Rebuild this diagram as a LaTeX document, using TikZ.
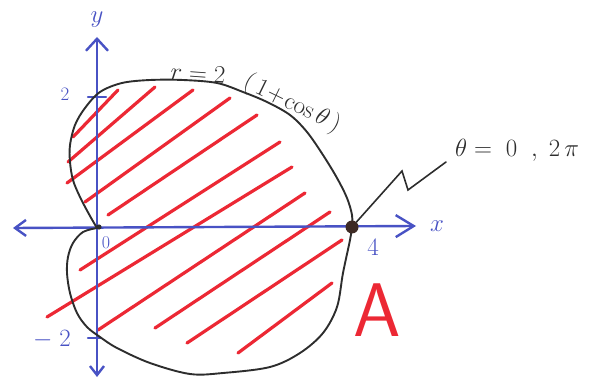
\documentclass[tikz,border=0pt]{standalone}
\usetikzlibrary{arrows.meta}
\definecolor{hatch}{RGB}{236,40,52}
\definecolor{axisblue}{RGB}{72,82,196}
\definecolor{curvec}{RGB}{45,45,45}
\definecolor{dotc}{RGB}{62,42,36}
\begin{document}
\begin{tikzpicture}[x=1pt,y=-1pt,
  hatchline/.style={hatch, line width=3.2pt, line cap=round},
  axisline/.style={axisblue, line width=2.4pt, line cap=round},
  curveline/.style={curvec, line width=1.9pt, line join=round, line cap=round},
  axislabel/.style={text=axisblue, inner sep=0pt},
  blacklabel/.style={text=curvec, inner sep=0pt}]
\useasboundingbox (0,0) rectangle (613,379);
% hatching
\draw[hatchline] (73,137) -- (118,90);
\draw[hatchline] (68,162) -- (155,87);
\draw[hatchline] (67,183) -- (193,90);
\draw[hatchline] (85,202) -- (230,98);
\draw[hatchline] (108,215) -- (257,115);
\draw[hatchline] (80,270) -- (280,142);
\draw[hatchline] (47,317) -- (292,167);
\draw[hatchline] (98,330) -- (305,193);
\draw[hatchline] (155,328) -- (330,212);
\draw[hatchline] (187,343) -- (342,240);
\draw[hatchline] (238,353) -- (332,283);
% axes
\coordinate (xl) at (13,228);
\coordinate (xr) at (416,226);
\coordinate (yt) at (97,37);
\coordinate (yb) at (97,377);
\draw[axisline, {Straight Barb[length=11pt,width=16pt]}-{Straight Barb[length=18pt,width=22pt]}] (xl) -- (xr);
\draw[axisline, {Straight Barb[length=12pt,width=22pt]}-{Straight Barb[length=9pt,width=14pt]}] (yt) -- (yb);
\coordinate (t2a) at (88,97); \coordinate (t2b) at (106,97);
\coordinate (tm2a) at (88,338); \coordinate (tm2b) at (101,338);
\draw[axisline] (t2a) -- (t2b);
\draw[axisline] (tm2a) -- (tm2b);
% axis labels
\node[axislabel, font=\fontsize{28}{30}\selectfont] (ylab) at (97,20) {$y$};
\node[axislabel, font=\fontsize{28}{30}\selectfont] (xlab) at (437,226) {$x$};
\node[axislabel, font=\fontsize{19}{21}\selectfont] (two) at (65,94) {2};
\node[axislabel, font=\fontsize{18}{20}\selectfont] (zero) at (106,243) {0};
\node[axislabel, font=\fontsize{25}{27}\selectfont] (four) at (373,247) {4};
\node[axislabel, font=\fontsize{23}{25}\selectfont] (mtwo) at (52,340) {$-\;2$};
% cardioid
\draw[curveline] plot[smooth, tension=0.55] coordinates {(97,228) (90,216) (80,197) (73,180) (70,162) (70,145) (75,125) (85,108) (100,92) (122,83) (150,80) (183,80) (217,83) (243,92) (267,102) (290,115) (307,132) (323,155) (337,178) (347,198) (352,215) (352,227)};
\draw[curveline] plot[smooth, tension=0.55] coordinates {(97,228) (83,232) (73,243) (68,257) (67,273) (70,293) (77,313) (87,327) (100,337) (117,348) (150,363) (190,374) (223,373) (270,367) (300,353) (323,333) (337,307) (343,273) (350,240) (352,227)};
\fill[curvec] (99,227) circle (2.6);
% curve label
\node[blacklabel, rotate=-4, font=\fontsize{23}{25}\selectfont] (req) at (198,73) {$r = 2$};
\node[blacklabel, rotate=-26, font=\fontsize{23}{25}\selectfont] (rrhs) at (292,104) {$(\,1\!+\!\cos\theta\,)$};
% point and leader
\node[circle, fill=dotc, inner sep=0pt, minimum size=13pt] (P) at (352,227) {};
\coordinate (z1) at (402,171);
\coordinate (z2) at (408,190);
\coordinate (z3) at (446,162);
\draw[curveline, line width=1.6pt, line join=miter] (P) -- (z1) -- (z2) -- (z3);
\node[blacklabel, anchor=base west, font=\fontsize{28}{30}\selectfont] (thlab) at (455,157) {$\theta = \; 0 \;\; , \; 2\,\pi$};
% region label
\node[text=hatch, inner sep=0pt, font=\fontsize{76}{80}\sffamily\selectfont] (A) at (377,310) {A};
\end{tikzpicture}
\end{document}
